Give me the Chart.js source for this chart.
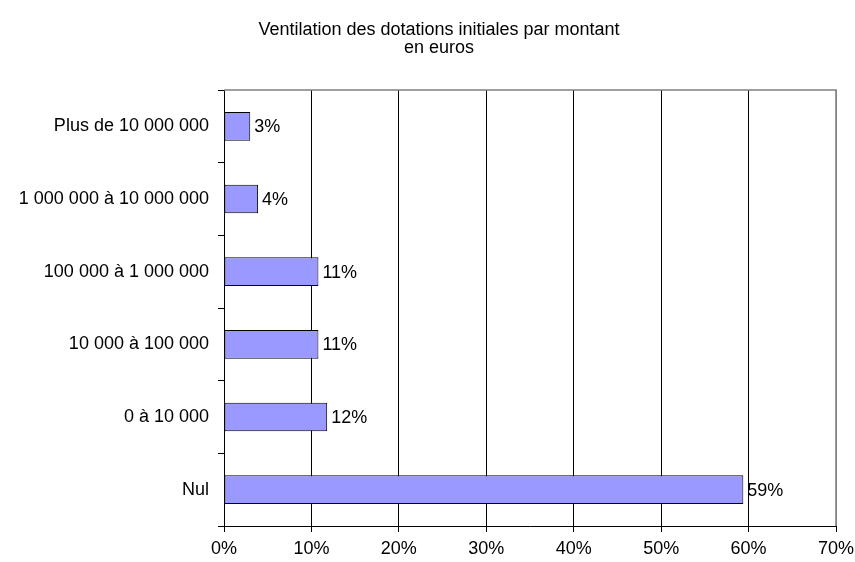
<!DOCTYPE html>
<html>
<head>
<meta charset="utf-8">
<script src="https://cdn.jsdelivr.net/npm/chart.js@4"></script>
<style>
  html, body { margin: 0; padding: 0; background: #fff; }
  #wrap { width: 855px; height: 562px; }
</style>
</head>
<body>
<div id="wrap"><canvas id="dotations-chart" width="855" height="562"></canvas></div>
<script>
// data
const categories = ['Plus de 10 000 000', '1 000 000 à 10 000 000', '100 000 à 1 000 000', '10 000 à 100 000', '0 à 10 000', 'Nul'];
const shares = [3.0, 3.9, 10.8, 10.8, 11.8, 59.4];
const shareLabels = ['3%', '4%', '11%', '11%', '12%', '59%'];
const xTicks = [0, 10, 20, 30, 40, 50, 60, 70];
const titleLines = ['Ventilation des dotations initiales par montant', 'en euros'];

const FONT = "'Liberation Sans', Arial, sans-serif";

// value labels to the right of each bar
const barLabels = {
  id: 'barLabels',
  afterDatasetsDraw(chart) {
    const ctx = chart.ctx;
    const meta = chart.getDatasetMeta(0);
    ctx.save();
    ctx.font = '18px ' + FONT;
    ctx.fillStyle = '#000';
    ctx.textAlign = 'left';
    ctx.textBaseline = 'middle';
    meta.data.forEach((bar, i) => {
      ctx.fillText(shareLabels[i], bar.x + 4, bar.y + 1);
    });
    ctx.restore();
  }
};

// grey frame on top and right of the plot + title (sits a bit right of centre)
const plotFrame = {
  id: 'plotFrame',
  beforeDatasetsDraw(chart) {
    const a = chart.chartArea;
    const ctx = chart.ctx;
    ctx.save();
    ctx.strokeStyle = '#808080';
    ctx.lineWidth = 1.5;
    ctx.beginPath();
    ctx.moveTo(a.left, a.top);
    ctx.lineTo(a.right, a.top);
    ctx.lineTo(a.right, a.bottom);
    ctx.stroke();

    ctx.font = '18px ' + FONT;
    ctx.fillStyle = '#000';
    ctx.textAlign = 'center';
    ctx.textBaseline = 'middle';
    titleLines.forEach((t, i) => ctx.fillText(t, 439, 30 + i * 18));
    ctx.restore();
  }
};

new Chart(document.getElementById('dotations-chart'), {
  type: 'bar',
  data: {
    labels: categories,
    datasets: [{
      data: shares,
      backgroundColor: '#9999ff',
      borderColor: '#000',
      borderWidth: 1,
      borderSkipped: false,
      barPercentage: 0.395,
      categoryPercentage: 1
    }]
  },
  options: {
    indexAxis: 'y',
    responsive: false,
    animation: false,
    layout: { padding: { left: 0, right: 0, top: 90, bottom: 0 } },
    plugins: {
      legend: { display: false },
      tooltip: { enabled: false },
      title: { display: false }
    },
    scales: {
      x: {
        min: 0,
        max: 70,
        afterBuildTicks(scale) {
          scale.ticks = xTicks.map(v => ({ value: v }));
        },
        afterFit(scale) {
          scale.height = 36;
          scale.paddingLeft = 0;
          scale.paddingRight = 19;
        },
        border: { color: '#000', width: 1 },
        grid: {
          color: ctx => (ctx.tick && ctx.tick.value === 70 ? '#808080' : '#000'),
          tickColor: '#000',
          tickLength: 6,
          drawTicks: true
        },
        ticks: {
          color: '#000',
          padding: 6,
          font: { family: FONT, size: 18 },
          callback: v => v + '%'
        }
      },
      y: {
        afterFit(scale) { scale.width = 224; },
        border: { color: '#000', width: 1 },
        grid: {
          offset: true,
          drawOnChartArea: false,
          tickColor: '#000',
          tickLength: 6
        },
        ticks: {
          color: '#000',
          padding: 9,
          font: { family: FONT, size: 18 }
        }
      }
    }
  },
  plugins: [plotFrame, barLabels]
});
</script>
</body>
</html>
